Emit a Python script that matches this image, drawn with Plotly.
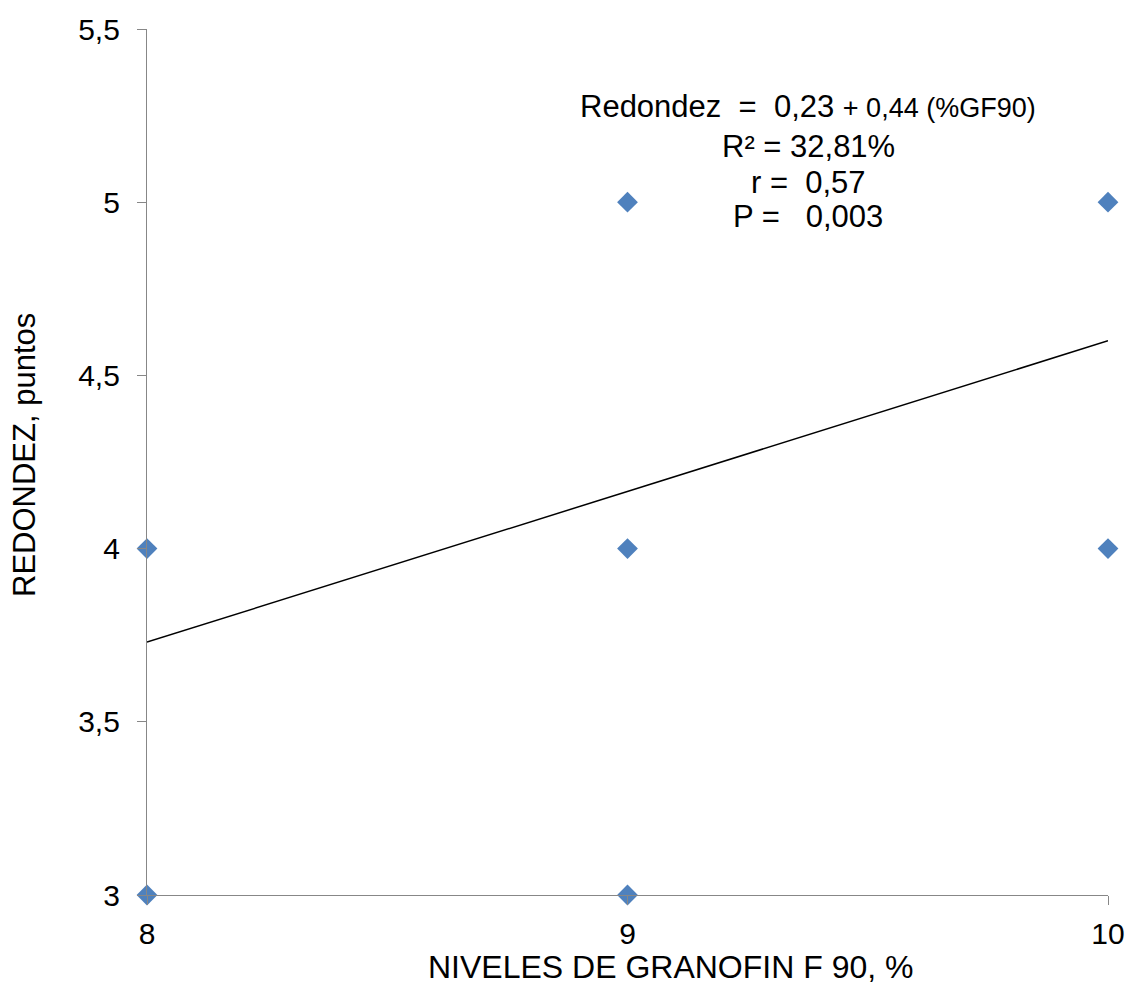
import plotly.graph_objects as go

# Data
x_vals = [8, 8, 9, 9, 9, 10, 10]
y_vals = [4, 3, 5, 4, 3, 5, 4]
trend_x = [8, 10]
trend_y = [3.73, 4.60]
y_ticks = [3, 3.5, 4, 4.5, 5, 5.5]
y_ticktext = ["3", "3,5", "4", "4,5", "5", "5,5"]
x_ticks = [8, 9, 10]
x_ticktext = ["8", "9", "10"]

FONT = "Liberation Sans, Arial, sans-serif"
AXCOL = "#878787"

fig = go.Figure()
fig.add_trace(go.Scatter(
    x=trend_x, y=trend_y, mode="lines",
    line=dict(color="black", width=1.5), showlegend=False, hoverinfo="skip"))
fig.add_trace(go.Scatter(
    x=x_vals, y=y_vals, mode="markers",
    marker=dict(symbol="diamond", size=16, color="#4F81BD",
                line=dict(width=0)),
    cliponaxis=False, showlegend=False))

nb = "\u00a0"
lines = [
    (f"Redondez{nb}{nb}={nb}{nb}0,23 <span style='font-size:27px'>+ 0,44 (%GF90)</span>", 107),
    ("R² = 32,81%", 146),
    (f"r ={nb} 0,57", 182),
    (f"P ={nb}{nb} 0,003", 216),
]
for txt, py in lines:
    fig.add_annotation(x=(808 - 147) / 961, y=(895 - py) / 866, xref="paper", yref="paper",
                       xanchor="center", yanchor="middle", text=txt, showarrow=False,
                       align="center", font=dict(family=FONT, size=31, color="black"))

# Axis titles
fig.add_annotation(x=(670 - 147) / 961, y=(895 - 967) / 866, xref="paper", yref="paper",
                   xanchor="center", yanchor="middle", text="NIVELES DE GRANOFIN F 90, %",
                   showarrow=False, font=dict(family=FONT, size=32, color="black"))
fig.add_annotation(x=(25 - 147) / 961, y=(895 - 455) / 866, xref="paper", yref="paper",
                   xanchor="center", yanchor="middle", text="REDONDEZ, puntos", textangle=-90,
                   showarrow=False, font=dict(family=FONT, size=31, color="black"))

fig.update_layout(
    width=1130, height=988,
    margin=dict(l=147, r=22, t=29, b=93),
    paper_bgcolor="white", plot_bgcolor="white",
    font=dict(family=FONT, size=30, color="black"),
    xaxis=dict(range=[8, 10], tickvals=x_ticks, ticktext=x_ticktext,
               showgrid=False, zeroline=False, showline=True, linecolor=AXCOL,
               linewidth=1.2, ticks="outside", ticklen=9, tickcolor=AXCOL,
               ticklabelstandoff=3, automargin=False,
               tickfont=dict(size=30)),
    yaxis=dict(range=[3, 5.5], tickvals=y_ticks, ticktext=y_ticktext,
               showgrid=False, zeroline=False, showline=True, linecolor=AXCOL,
               linewidth=1.2, ticks="outside", ticklen=9, tickcolor=AXCOL,
               ticklabelstandoff=11, automargin=False,
               tickfont=dict(size=30)),
)

fig.write_html("out.html")
